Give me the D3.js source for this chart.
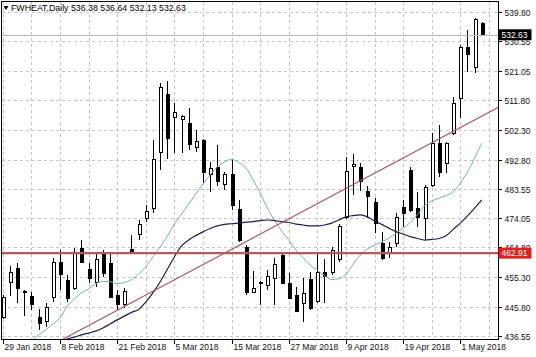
<!DOCTYPE html>
<html><head><meta charset="utf-8">
<script src="https://cdn.jsdelivr.net/npm/d3@7"></script>
<style>body{margin:0;background:#fff}svg{display:block}text{font-family:"Liberation Sans",Arial,sans-serif}</style>
</head><body><svg id="c" width="536" height="357"></svg>
<script>
// ---- data ----
const symbol = "FWHEAT,Daily";
const dates = ["2018-01-29","2018-01-30","2018-01-31","2018-02-01","2018-02-02","2018-02-05","2018-02-06","2018-02-07","2018-02-08","2018-02-09",
"2018-02-12","2018-02-13","2018-02-14","2018-02-15","2018-02-16","2018-02-20","2018-02-21","2018-02-22","2018-02-23","2018-02-26",
"2018-02-27","2018-02-28","2018-03-01","2018-03-02","2018-03-05","2018-03-06","2018-03-07","2018-03-08","2018-03-09","2018-03-12",
"2018-03-13","2018-03-14","2018-03-15","2018-03-16","2018-03-19","2018-03-20","2018-03-21","2018-03-22","2018-03-23","2018-03-26",
"2018-03-27","2018-03-28","2018-03-29","2018-04-02","2018-04-03","2018-04-04","2018-04-05","2018-04-06","2018-04-09","2018-04-10",
"2018-04-11","2018-04-12","2018-04-13","2018-04-16","2018-04-17","2018-04-18","2018-04-19","2018-04-20","2018-04-23","2018-04-24",
"2018-04-25","2018-04-26","2018-04-27","2018-04-30","2018-05-01","2018-05-02","2018-05-03","2018-05-04"];
const open  = [442.6,453.6,458.1,450.8,449.2,442.4,441.3,449.0,460.2,454.3, 451.7,464.5,457.7,453.8,462.9,459.7,449.5,446.7,464.1,469.0,
 474.0,477.2,495.3,513.7,506.5,505.8,504.6,496.7,499.0,488.1, 490.3,485.0,488.2,477.0,464.8,450.4,453.6,452.7,454.9,462.3,
 453.5,449.5,446.9,454.6,447.7,457.0,457.0,460.9,474.4,490.7, 490.4,482.8,479.3,466.1,462.9,466.1,477.7,489.5,477.2,474.0,
 484.7,498.0,491.6,501.2,512.3,528.6,522.4,536.38];
const high  = [449.6,458.8,459.7,451.0,450.4,445.0,447.1,461.3,463.9,455.9, 464.5,467.1,459.7,463.0,463.9,463.4,451.1,451.7,468.7,473.5,
 478.3,499.0,517.3,518.0,510.8,507.0,509.2,502.2,499.3,492.1, 497.4,488.9,492.9,480.0,465.5,457.3,454.1,457.5,461.3,463.0,
 456.5,452.2,454.9,457.0,462.9,460.9,465.0,472.2,493.7,494.5, 491.7,484.2,480.4,469.8,466.6,475.6,479.9,490.5,482.5,484.7,
 501.2,503.8,498.5,512.9,529.4,534.2,537.9,536.64];
const low   = [441.8,449.3,446.9,442.8,444.8,438.4,439.4,447.4,451.1,447.4, 451.1,459.7,453.3,452.2,455.4,448.5,444.8,445.3,463.1,467.1,
 472.9,475.8,489.5,492.9,494.8,494.8,495.8,495.3,485.2,482.5, 484.3,483.1,476.7,466.5,449.5,450.2,446.4,451.1,446.4,453.3,
 448.3,444.2,441.0,444.8,446.9,446.9,455.9,460.2,473.7,481.6, 482.6,474.0,469.2,460.7,461.3,465.0,471.4,476.1,471.4,467.1,
 484.1,487.3,488.4,500.6,506.0,520.8,520.3,532.13];
const close = [449.0,457.0,451.7,450.4,446.7,440.5,445.6,460.2,456.2,448.5, 463.4,460.2,455.1,460.9,456.5,449.0,446.7,450.8,463.4,472.2,
 476.5,492.9,515.9,499.6,508.1,506.7,497.8,498.8,488.9,490.0, 486.0,488.1,478.3,467.2,450.6,451.7,453.3,455.6,459.4,453.5,
 448.5,444.5,450.3,445.3,457.0,455.6,463.9,471.6,489.2,491.4, 485.8,481.1,472.4,461.3,465.0,474.5,475.8,476.7,474.5,484.1,
 498.0,488.9,498.0,510.8,528.6,526.5,537.6,532.63];
// moving averages (null = not visible)
const maFast = [null,null,null,null,434.9,436.8,438.4,440.3,442.2,446.0, 448.4,450.2,451.5,453.1,453.9,453.8,453.2,453.5,454.5,456.2,
 458.6,461.7,464.9,468.2,472.2,475.4,478.6,481.8,485.0,487.9, 490.4,492.0,492.9,491.8,490.1,486.3,482.1,477.3,473.5,470.0,
 467.1,463.9,461.5,459.1,457.4,455.8,454.5,454.7,456.2,459.3, 462.3,464.2,465.5,466.5,467.7,469.2,470.9,472.7,475.2,478.1,
 479.6,480.4,481.3,482.5,485.3,488.8,493.3,498.0];
const maSlow = [null,null,null,null,null,null,null,null,434.5,435.5, 436.1,436.8,437.4,438.0,439.0,440.3,441.6,442.8,444.0,444.9,
 447.3,450.2,453.7,457.7,461.7,465.2,467.1,468.5,469.7,470.8, 471.6,472.1,472.3,472.5,472.8,473.0,473.3,473.5,473.3,473.0,
 472.7,472.2,471.9,471.6,471.6,471.9,472.5,473.5,474.5,474.9, 475.1,474.5,473.2,472.1,470.9,469.8,469.0,468.2,467.6,467.1,
 467.3,467.6,468.5,470.5,472.5,474.8,477.3,479.9];
const priceTicks = [539.80,530.55,521.05,511.80,502.30,492.80,483.55,474.05,464.80,455.30,445.80,436.55];
const dateTicks = ["2018-01-29","2018-02-08","2018-02-21","2018-03-05","2018-03-15","2018-03-27","2018-04-09","2018-04-19","2018-05-01"];
const hLevel = 462.91;
const trendIdx = [9, 67];
const trendPrice = [436.16, 506.63];

// ---- layout ----
const W = 536, H = 357;
const L = 1.5, T = 1.5, R = 498.5, B = 339.5;
const svg = d3.select("#c");
const n = dates.length;
const x = d3.scaleLinear().domain([-0.25, n + 1.27]).range([L - 0.5, R - 0.5]);
const y = d3.scaleLinear().domain([435.5, 543.1]).range([B - 0.5, T + 0.5]);
const fmtDate = d3.timeFormat("%-d %b %Y"), parse = d3.timeParse("%Y-%m-%d");

svg.append("defs").append("clipPath").attr("id", "pc")
  .append("rect").attr("x", L).attr("y", T).attr("width", R - L).attr("height", B - T);

const grid = svg.append("g").attr("stroke", "#c4c4c4").attr("stroke-dasharray", "3,3").attr("shape-rendering", "crispEdges");
priceTicks.forEach(v => {
  const yy = Math.round(y(v)) + 0.5;
  grid.append("line").attr("x1", L).attr("x2", R).attr("y1", yy).attr("y2", yy);
});
for (let i = 0; i <= n + 1; i += 4) {
  const xx = Math.round(x(i)) + 0.5;
  if (xx <= L + 1 || xx >= R) continue;
  grid.append("line").attr("x1", xx).attr("x2", xx).attr("y1", T).attr("y2", B);
}

const plot = svg.append("g").attr("clip-path", "url(#pc)");
const idx = d3.range(n);
// candles
const cg = plot.append("g").attr("shape-rendering", "crispEdges");
idx.forEach(i => {
  const cx = Math.round(x(i)) + 0.5;
  cg.append("line").attr("x1", cx).attr("x2", cx)
    .attr("y1", y(high[i])).attr("y2", y(low[i])).attr("stroke", "#000");
  const top = y(Math.max(open[i], close[i])), bot = y(Math.min(open[i], close[i]));
  const bull = close[i] >= open[i];
  cg.append("rect").attr("x", cx - 1.5).attr("width", 3)
    .attr("y", Math.round(top) + 0.5).attr("height", Math.max(0.01, Math.round(bot) - Math.round(top)))
    .attr("fill", bull ? "#fff" : "#000").attr("stroke", "#000").attr("stroke-width", 1);
});
// moving averages
const lineGen = arr => d3.line().defined(i => arr[i] != null).x(i => x(i)).y(i => y(arr[i])).curve(d3.curveMonotoneX)(idx);
plot.append("path").attr("d", lineGen(maFast)).attr("fill", "none").attr("stroke", "#72b1b3").attr("stroke-width", 1);
plot.append("path").attr("d", lineGen(maSlow)).attr("fill", "none").attr("stroke", "#1e1e4e").attr("stroke-width", 1.2);
// trend line (ray, extended across plot)
const slope = (trendPrice[1] - trendPrice[0]) / (trendIdx[1] - trendIdx[0]);
const tAt = i => trendPrice[0] + slope * (i - trendIdx[0]);
const i0 = x.invert(L), i1 = x.invert(R);
plot.append("line").attr("x1", x(i0)).attr("y1", y(tAt(i0))).attr("x2", x(i1)).attr("y2", y(tAt(i1)))
  .attr("stroke", "#a8505a").attr("stroke-width", 1.1);
// horizontal level
plot.append("line").attr("x1", L).attr("x2", R).attr("y1", y(hLevel)).attr("y2", y(hLevel))
  .attr("stroke", "#b45a5a").attr("stroke-width", 2.2);
// bid line
const last = close[n - 1];
plot.append("line").attr("x1", L).attr("x2", R).attr("y1", Math.round(y(last)) + 0.5).attr("y2", Math.round(y(last)) + 0.5)
  .attr("stroke", "#b8b8b8").attr("stroke-width", 1).attr("shape-rendering", "crispEdges");

// frame
svg.append("rect").attr("x", L).attr("y", T).attr("width", R - L).attr("height", B - T)
  .attr("fill", "none").attr("stroke", "#000").attr("shape-rendering", "crispEdges");

// right axis
const ax = svg.append("g");
priceTicks.forEach(v => {
  const yy = Math.round(y(v)) + 0.5;
  ax.append("line").attr("x1", R).attr("x2", R + 3).attr("y1", yy).attr("y2", yy).attr("stroke", "#000").attr("shape-rendering", "crispEdges");
  ax.append("text").attr("x", R + 6).attr("y", yy + 3).attr("font-size", "8.5px").attr("fill", "#111").text(v.toFixed(2));
});
// bottom axis
dateTicks.forEach(ds => {
  const i = dates.indexOf(ds);
  const xx = Math.round(x(i)) + 0.5;
  ax.append("line").attr("x1", xx).attr("x2", xx).attr("y1", B).attr("y2", B + 4).attr("stroke", "#000").attr("shape-rendering", "crispEdges");
  ax.append("text").attr("x", Math.max(xx + 1, 3)).attr("y", 349.5).attr("font-size", "8.5px").attr("fill", "#111").text(fmtDate(parse(ds)));
});

// price labels
function priceTag(v, bg) {
  const yy = y(v);
  svg.append("rect").attr("x", R).attr("y", yy - 5.5).attr("width", 33).attr("height", 11).attr("fill", bg);
  svg.append("text").attr("x", R + 3).attr("y", yy + 3).attr("font-size", "8.5px").attr("fill", "#fff").text(v.toFixed(2));
}
priceTag(last, "#000");
priceTag(hLevel, "#e31e1e");

// title
svg.append("path").attr("d", "M3.5,6 L8.5,6 L6,10 Z").attr("fill", "#000");
svg.append("text").attr("x", 11).attr("y", 11).attr("font-size", "8.8px").attr("fill", "#000")
  .text(symbol + "  " + [open[n-1], high[n-1], low[n-1], close[n-1]].map(v => v.toFixed(2)).join(" "));
</script></body></html>
